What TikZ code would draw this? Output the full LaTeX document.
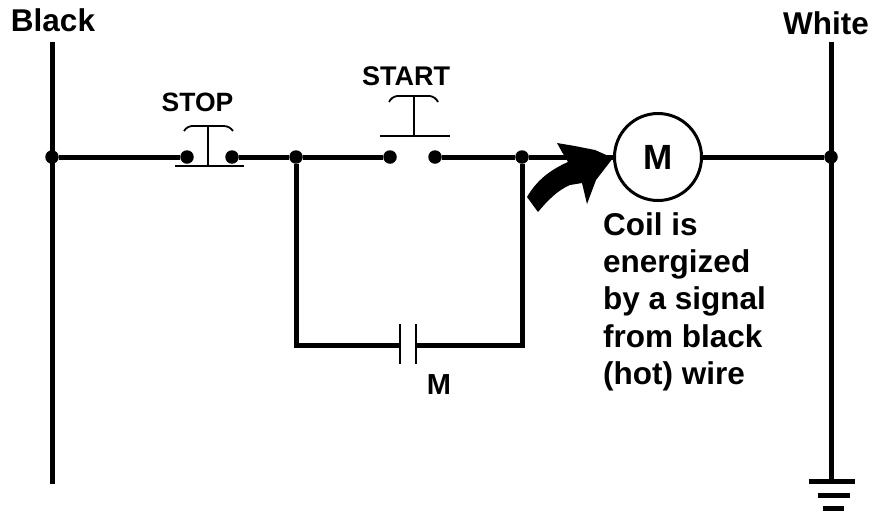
\documentclass[tikz,border=0pt]{standalone}
\usepackage{fontspec}
\setmainfont{Liberation Sans}
\begin{document}
\begin{tikzpicture}[
        x=1pt, y=-1pt,
        wire/.style={line width=5pt},
        thin wire/.style={line width=2.6pt},
        dot/.style={circle, fill=black, inner sep=0pt, minimum size=13.5pt},
        label/.style={inner sep=0pt, font=\bfseries\fontsize{31.5}{37.4}\selectfont},
        small label/.style={inner sep=0pt, font=\bfseries\fontsize{26.5}{30}\selectfont}
    ]
        \useasboundingbox (0,0) rectangle (872,512);

        % Rails
        \coordinate (blacktop) at (52,42);
        \coordinate (blackend) at (52,484);
        \coordinate (whitetop) at (831,42);
        \coordinate (whiteend) at (831,481);
        \node [dot](B) at (52,157) {};
        \node [dot](W) at (831,157) {};
        \draw[wire] (blacktop) -- (blackend);
        \draw[wire] (whitetop) -- (whiteend);

        % Contacts on the main line
        \node [dot](S1) at (187,157) {};
        \node [dot](S2) at (232,157) {};
        \node [dot](J1) at (296,157) {};
        \node [dot](R1) at (390,157) {};
        \node [dot](R2) at (435,157) {};
        \node [dot](J2) at (522,157) {};
        \node [circle, draw, line width=3pt, minimum size=87pt, inner sep=0pt, font=\bfseries\fontsize{35}{35}\selectfont](coil) at (658,157) {M};
        \draw[wire] (B) -- (S1);
        \draw[wire] (S2) -- (J1) -- (R1);
        \draw[wire] (R2) -- (J2) -- (coil);
        \draw[wire] (coil) -- (W);

        % STOP button
        \coordinate (stopstem) at (208,126);
        \coordinate (stopbase) at (208,166);
        \coordinate (stopleft) at (175,166);
        \coordinate (stopright) at (244,166);
        \draw[thin wire] (stopstem) -- (stopbase);
        \draw[thin wire] (stopleft) -- (stopright);
        \draw[line width=1.8pt] (184,131) to[bend left=25] (192,126) -- (224,126) to[bend left=25] (233,131);
        \node [small label](stop) at (197.5,102) {STOP};

        % START button
        \coordinate (startstem) at (414,96);
        \coordinate (startbase) at (414,136);
        \coordinate (startleft) at (380,136);
        \coordinate (startright) at (450,136);
        \draw[thin wire] (startstem) -- (startbase);
        \draw[thin wire] (startleft) -- (startright);
        \draw[line width=1.8pt] (389,102) to[bend left=25] (397,96) -- (430,96) to[bend left=25] (438,102);
        \node [small label, font=\bfseries\fontsize{27}{30}\selectfont](start) at (406,76) {START};

        % Holding contact
        \coordinate (capA) at (400,345);
        \coordinate (capB) at (416,345);
        \coordinate (capAtop) at (400,324);
        \coordinate (capAend) at (400,364);
        \coordinate (capBtop) at (416,324);
        \coordinate (capBend) at (416,364);
        \draw[wire] (J1) |- (capA);
        \draw[wire] (J2) |- (capB);
        \draw[thin wire] (capAtop) -- (capAend);
        \draw[thin wire] (capBtop) -- (capBend);
        \node [small label, font=\bfseries\fontsize{29}{30}\selectfont](hold) at (439,385) {M};

        % Ground
        \coordinate (g1a) at (809,481);
        \coordinate (g1b) at (855,481);
        \coordinate (g2a) at (818,495);
        \coordinate (g2b) at (850,495);
        \coordinate (g3a) at (823,508);
        \coordinate (g3b) at (844,508);
        \draw[wire] (g1a) -- (g1b);
        \draw[wire] (g2a) -- (g2b);
        \draw[wire] (g3a) -- (g3b);

        % Arrow
        \fill (613,158) -- (595,150) -- (575,146) -- (557,143) -- (562,152) -- (568,162)
            .. controls (550,170) and (537,180) .. (527,197) -- (538,212)
            .. controls (548,200) and (558,190) .. (570,185) -- (582,183) -- (587,204) -- (596,180) -- cycle;

        % Texts
        \node [label](black) at (53,20) {Black};
        \node [label](white) at (826,23) {White};
        \node [label, anchor=north west, align=left](note) at (603,212) {Coil is\\energized\\by a signal\\from black\\(hot) wire};
    \end{tikzpicture}
\end{document}
